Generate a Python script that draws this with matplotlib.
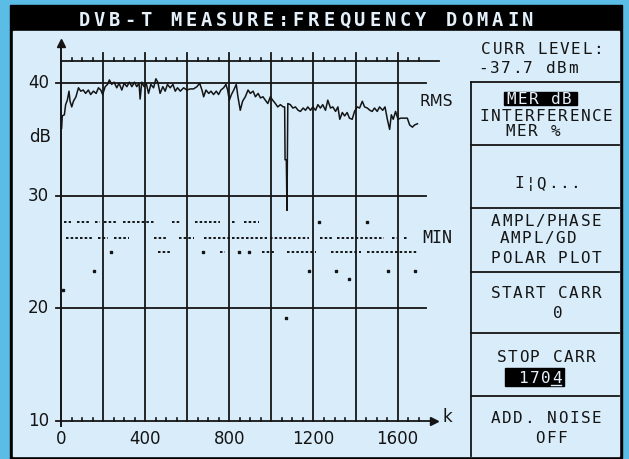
import matplotlib
matplotlib.use("Agg")
import matplotlib.pyplot as plt
from matplotlib.patches import Rectangle

# RMS trace: carrier index k, MER in dB
rms_k = [3, 6, 16, 22, 30, 38, 43, 51, 59, 71, 83, 94, 106, 117, 130, 141, 154, 167,
         178, 189, 198, 210, 221, 230, 241, 252, 265, 276, 289, 300, 313, 325, 337,
         349, 360, 371, 376, 384, 395, 405, 416, 427, 440, 451, 460, 471, 484, 495,
         506, 519, 532, 543, 554, 567, 583, 598, 614, 630, 646, 659, 670, 678, 689,
         702, 713, 725, 738, 749, 760, 773, 784, 792, 800, 810, 821, 833, 841, 852,
         863, 876, 889, 900, 913, 924, 937, 948, 960, 971, 983, 995, 1006, 1019,
         1030, 1043, 1056, 1063, 1065, 1071, 1074, 1078, 1090, 1102, 1114, 1127,
         1138, 1151, 1162, 1173, 1186, 1197, 1210, 1221, 1233, 1244, 1257, 1268,
         1281, 1292, 1305, 1316, 1325, 1337, 1348, 1360, 1371, 1384, 1395, 1408,
         1419, 1432, 1443, 1456, 1468, 1479, 1490, 1503, 1514, 1529, 1540, 1551,
         1562, 1570, 1579, 1590, 1602, 1614, 1630, 1646, 1657, 1670, 1681, 1694]
rms_db = [36.0, 37.1, 37.2, 38.1, 38.5, 39.3, 38.4, 37.9, 38.4, 38.8, 39.6, 39.3,
          39.4, 39.1, 39.4, 39.0, 39.3, 39.1, 39.6, 39.4, 39.0, 39.7, 39.9, 40.3,
          39.9, 40.1, 39.6, 40.0, 39.4, 40.0, 39.7, 40.1, 39.7, 40.1, 39.7, 40.0,
          38.6, 40.1, 39.7, 40.0, 39.1, 39.9, 39.6, 40.4, 40.1, 39.1, 39.7, 39.3,
          39.9, 39.6, 39.9, 39.3, 39.6, 39.3, 39.6, 39.4, 39.5, 39.5, 39.7, 40.0,
          39.4, 38.8, 39.4, 39.1, 39.3, 39.0, 39.3, 39.0, 39.4, 39.6, 39.9, 39.4,
          38.5, 39.0, 39.4, 39.9, 38.8, 37.6, 38.4, 38.8, 39.4, 39.1, 39.3, 38.8,
          39.1, 38.7, 38.8, 38.5, 38.2, 38.8, 38.5, 38.2, 37.9, 38.1, 37.9, 37.9,
          33.2, 33.2, 28.7, 38.2, 38.1, 37.8, 37.9, 37.6, 37.5, 37.8, 37.6, 37.9,
          37.6, 37.9, 37.6, 38.1, 37.8, 38.1, 37.6, 38.5, 37.8, 37.9, 37.5, 37.9,
          36.8, 37.4, 37.1, 37.4, 36.9, 36.8, 37.5, 37.9, 37.8, 38.4, 37.9, 37.8,
          37.6, 37.5, 37.8, 37.5, 37.9, 37.6, 37.9, 36.8, 35.9, 37.2, 36.8, 37.5,
          36.8, 36.9, 36.9, 36.9, 36.3, 36.1, 36.3, 36.4]

# MIN trace: dotted rows (level, carrier ranges) and single points
min_levels = [27.7, 26.2, 25.0]
min_ranges = [
    [(16, 46), (78, 138), (162, 186), (202, 273), (297, 448), (527, 567),
     (638, 757), (813, 829), (871, 940)],
    [(24, 146), (178, 225), (254, 321), (440, 503), (563, 630), (681, 979),
     (995, 1178), (1229, 1289), (1310, 1535), (1575, 1598), (1630, 1646)],
    [(463, 519), (757, 781), (956, 1019), (1075, 1210), (1281, 1424), (1456, 1694)],
]
min_pt_k = [1225, 1456, 237, 675, 848, 895, 157, 1178, 1305, 1554, 1681, 1371, 8, 1070]
min_pt_db = [27.7, 27.7, 25.0, 25.0, 25.0, 25.0, 23.3, 23.3, 23.3, 23.3, 23.3, 22.6, 21.6, 19.1]

grid_k = [200, 400, 600, 800, 1000, 1200, 1400, 1600]
grid_db = [20, 30, 40]
xlabels = [0, 400, 800, 1200, 1600]
ylabels = [10, 20, 30, 40]
minor_k = [k for k in range(50, 1701, 50) if k % 200]

# side menu: (text, centre x, centre y) in screen pixels
menu = [("CURR LEVEL:", 542, 48), ("-37.7 dBm", 528, 67),
        ("INTERFERENCE", 546, 115), ("MER %", 533, 130),
        ("I\u00a6Q...", 547, 182),
        ("AMPL/PHASE", 546, 220), ("AMPL/GD", 538, 237), ("POLAR PLOT", 546, 257),
        ("START CARR", 546, 292), ("0", 558, 312),
        ("STOP CARR", 546, 356),
        ("ADD. NOISE", 546, 417), ("OFF", 551, 437)]
box_y = [82, 145, 208, 272, 333, 396]

INK = "#141414"
LIGHT = "#e4f1fb"
SCREEN = "#d8ecfa"
W, H = 629, 459


def mono(ax, text, xc, y, pitch=11.2, size=11.5, color=INK, weight="normal"):
    cap = 0.73 * size * 100 / 72
    x0 = xc - pitch * len(text) / 2
    for i, ch in enumerate(text):
        ax.text(x0 + pitch * (i + 0.5), y + cap / 2, ch, ha="center", va="baseline",
                fontsize=size, color=color, family="DejaVu Sans Mono", weight=weight)


fig = plt.figure(figsize=(W / 100, H / 100), dpi=100)
fig.patch.set_facecolor("#5bbde6")

# screen / frame in pixel coordinates
scr = fig.add_axes([0, 0, 1, 1])
scr.set_xlim(0, W)
scr.set_ylim(H, 0)
scr.axis("off")
scr.add_patch(Rectangle((10, 5), 612, 454, color="black"))
scr.add_patch(Rectangle((13, 31), 606, 425, color=SCREEN))
mono(scr, "DVB-T MEASURE:FREQUENCY DOMAIN", 306, 19, pitch=15.3, size=13.5,
     color=LIGHT, weight="bold")

scr.plot([471, 471], [box_y[0], 456], color=INK, lw=1.3)
for y in box_y:
    scr.plot([471, 619], [y, y], color=INK, lw=1.3)
for text, xc, yc in menu:
    mono(scr, text, xc, yc)

# highlighted fields
scr.add_patch(Rectangle((504, 91.5), 73, 13.5, color="black"))
mono(scr, "MER dB", 539, 98, color=LIGHT)
scr.add_patch(Rectangle((505, 368), 59, 18, color="black"))
mono(scr, "1704", 540, 377, color=LIGHT)
scr.plot([551, 561], [385, 385], color=LIGHT, lw=1)

# plot area: k=0 at x=61, 0.2104 px/carrier; 10 dB at y=420.7, 11.247 px/dB
kx, dby = 0.2104, 11.247
x_lo, x_hi, y_lo, y_hi = -50, 1850, 8, 45
left = 61 + x_lo * kx
bottom = H - (420.7 + (10 - y_lo) * dby)
ax = fig.add_axes([left / W, bottom / H, (x_hi - x_lo) * kx / W, (y_hi - y_lo) * dby / H])
ax.set_xlim(x_lo, x_hi)
ax.set_ylim(y_lo, y_hi)
ax.axis("off")
ax.patch.set_alpha(0)

for d in grid_db:
    ax.plot([-26, 1733], [d, d], color=INK, lw=1.3)
ax.plot([0, 1795], [42, 42], color=INK, lw=1.3)
ax.plot([-26, 1760], [10, 10], color=INK, lw=1.3)
ax.plot([1772], [10], marker=">", ms=6, color=INK)
ax.plot([0, 0], [9.5, 43.2], color=INK, lw=1.4)
ax.plot([0], [43.6], marker="^", ms=6, color=INK)
for k in grid_k:
    ax.plot([k, k], [10, 42.7], color=INK, lw=1.3)
for k in minor_k:
    ax.plot([k, k], [42, 42.25], color=INK, lw=1.2)
    ax.plot([k, k], [10, 10.25], color=INK, lw=1.2)

ax.plot(rms_k, rms_db, color=INK, lw=1.1)

for level, ranges in zip(min_levels, min_ranges):
    for k0, k1 in ranges:
        ax.plot([k0, k1], [level, level], color=INK, lw=1.4, ls=(0, (1.3, 1.1)))
ax.plot(min_pt_k, min_pt_db, ls="none", marker="s", ms=1.5, color=INK)

font = dict(fontsize=12, family="DejaVu Sans", color=INK)
for v in ylabels:
    ax.text(-57, v, str(v), ha="right", va="center", **font)
for v in xlabels:
    ax.text(v, 8.4, str(v), ha="center", va="center", **font)
ax.text(-100, 35.2, "dB", ha="center", va="center", **font)
ax.text(1785, 38.4, "RMS", ha="center", va="center", fontsize=11, family="DejaVu Sans",
        color=INK)
ax.text(1835, 10.3, "k", ha="center", va="center", **font)
ax.text(1790, 26.2, "MIN", ha="center", va="center", fontsize=12,
        family="DejaVu Sans Mono", color=INK)

fig.savefig("out.png", dpi=100)
